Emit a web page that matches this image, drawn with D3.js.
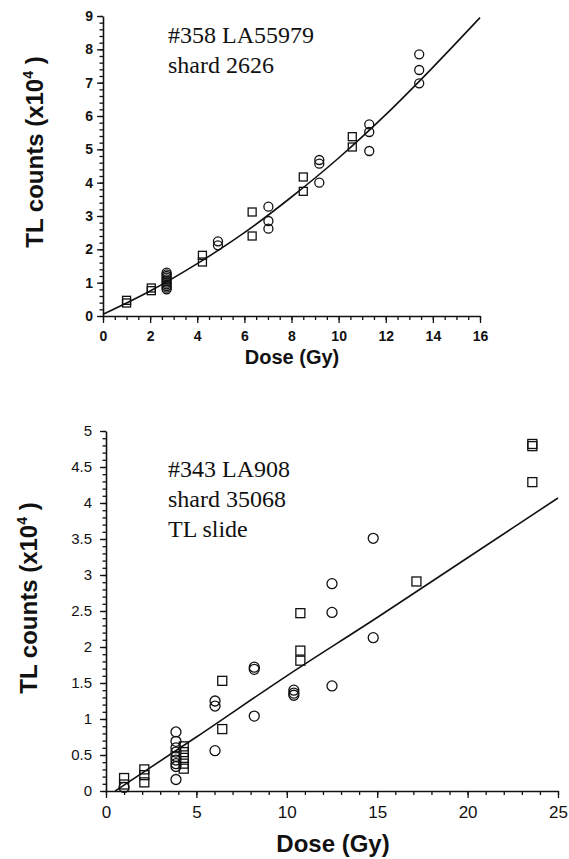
<!DOCTYPE html>
<html>
<head>
<meta charset="utf-8">
<script src="https://cdn.jsdelivr.net/npm/d3@7"></script>
<style>
  body { margin: 0; background: #fff; }
  .tick text { font-family: "Liberation Sans", Arial, sans-serif; fill: #111; }
  .domain, .tick line { stroke: #111; }
</style>
</head>
<body>
<svg id="fig" width="569" height="859"></svg>
<script>
const svg = d3.select('#fig');

// ---- top panel (#358) : [dose Gy, TL counts x1e4]
const topSquares = [[1.0, 0.47], [1.0, 0.39], [2.05, 0.84], [2.05, 0.76], [4.22, 1.82], [4.22, 1.62],
    [6.33, 3.12], [6.33, 2.40], [8.5, 4.17], [8.5, 3.74], [10.58, 5.38], [10.58, 5.07]];
const topCircles = [[2.7, 0.80], [2.7, 0.85], [2.7, 0.90], [2.7, 0.95], [2.7, 1.00], [2.7, 1.05], [2.7, 1.10],
    [2.7, 1.15], [2.7, 1.20], [2.7, 1.25], [2.7, 1.30],
    [4.88, 2.24], [4.88, 2.12], [7.02, 3.28], [7.02, 2.85], [7.02, 2.62],
    [9.18, 4.68], [9.18, 4.57], [9.18, 4.00], [11.3, 5.75], [11.3, 5.52], [11.3, 4.95],
    [13.42, 7.85], [13.42, 7.38], [13.42, 6.98]];
const topFit = [[0, 0.05], [2, 0.75], [4, 1.57], [6, 2.50], [8, 3.57], [10, 4.74], [12, 6.04], [14, 7.46], [16, 8.95]];
const topXTicks = [0, 2, 4, 6, 8, 10, 12, 14, 16];
const topYTicks = [0, 1, 2, 3, 4, 5, 6, 7, 8, 9];
const topNote = ['#358 LA55979', 'shard 2626'];

// ---- bottom panel (#343)
const botSquares = [[1.0, 0.18], [1.0, 0.09], [2.12, 0.30], [2.12, 0.22], [2.12, 0.12],
    [4.3, 0.62], [4.3, 0.54], [4.3, 0.46], [4.3, 0.38], [4.3, 0.31],
    [6.43, 1.53], [6.43, 0.86], [10.75, 2.47], [10.75, 1.95], [10.75, 1.81],
    [17.17, 2.91], [23.58, 4.82], [23.58, 4.79], [23.58, 4.29]];
const botCircles = [[1.0, 0.05], [3.87, 0.82], [3.87, 0.69], [3.87, 0.60], [3.87, 0.54], [3.87, 0.48],
    [3.87, 0.43], [3.87, 0.38], [3.87, 0.34], [3.87, 0.16],
    [6.03, 1.25], [6.03, 1.18], [6.03, 0.56], [8.2, 1.72], [8.2, 1.69], [8.2, 1.04],
    [10.39, 1.40], [10.39, 1.36], [10.39, 1.33], [12.5, 2.88], [12.5, 2.48], [12.5, 1.46],
    [14.78, 3.51], [14.78, 2.13]];
const botFit = [[0.5, 0], [5, 0.75], [10, 1.60], [15, 2.41], [20, 3.24], [25, 4.07]];
const botXTicks = [0, 5, 10, 15, 20, 25];
const botYTicks = [0, 0.5, 1, 1.5, 2, 2.5, 3, 3.5, 4, 4.5, 5];
const botNote = ['#343 LA908', 'shard 35068', 'TL slide'];

function minorTicks (max, step) {
    return d3.range(0, max + step / 2, step);
}

function drawPanel (p) {
    const x = d3.scaleLinear().domain(p.xDomain).range(p.xRange);
    const y = d3.scaleLinear().domain(p.yDomain).range(p.yRange);
    const g = svg.append('g');

    // minor ticks
    g.append('g').attr('transform', `translate(0,${p.yRange[0]})`)
        .call(d3.axisBottom(x).tickValues(minorTicks(p.xDomain[1], p.xMinor)).tickSize(4).tickFormat('').tickSizeOuter(0))
        .call(s => s.select('.domain').remove());
    g.append('g').attr('transform', `translate(${p.xRange[0]},0)`)
        .call(d3.axisLeft(y).tickValues(minorTicks(p.yDomain[1], p.yMinor)).tickSize(3.5).tickFormat('').tickSizeOuter(0))
        .call(s => s.select('.domain').remove());

    // major axes
    const xa = g.append('g').attr('transform', `translate(0,${p.yRange[0]})`)
        .call(d3.axisBottom(x).tickValues(p.xTicks).tickSize(7).tickSizeOuter(0).tickPadding(p.xPad).tickFormat(d3.format('')));
    xa.selectAll('text').style('font-size', p.xFont + 'px').style('font-weight', p.tickWeight);
    const ya = g.append('g').attr('transform', `translate(${p.xRange[0]},0)`)
        .call(d3.axisLeft(y).tickValues(p.yTicks).tickSize(6).tickSizeOuter(0).tickPadding(p.yPad).tickFormat(d3.format('')));
    ya.selectAll('text').style('font-size', p.yFont + 'px').style('font-weight', p.tickWeight);
    g.selectAll('.domain').attr('stroke-width', 1.6);
    g.selectAll('.tick line').attr('stroke-width', 1.3);

    // fit line
    g.append('path')
        .datum(p.fit)
        .attr('fill', 'none')
        .attr('stroke', '#111')
        .attr('stroke-width', 1.6)
        .attr('d', d3.line().x(d => x(d[0])).y(d => y(d[1])).curve(d3.curveMonotoneX));

    // markers
    const s = p.size;
    g.append('g').selectAll('rect').data(p.squares).enter().append('rect')
        .attr('x', d => x(d[0]) - s / 2)
        .attr('y', d => y(d[1]) - s / 2)
        .attr('width', s).attr('height', s)
        .attr('fill', 'none').attr('stroke', '#111').attr('stroke-width', 1.3);
    g.append('g').selectAll('circle').data(p.circles).enter().append('circle')
        .attr('cx', d => x(d[0]))
        .attr('cy', d => y(d[1]))
        .attr('r', p.r)
        .attr('fill', 'none').attr('stroke', '#111').attr('stroke-width', 1.3);

    // annotation
    g.append('g').selectAll('text').data(p.note).enter().append('text')
        .attr('x', 168)
        .attr('y', (d, i) => p.noteY + i * 30)
        .style('font-family', '"Liberation Serif", "Times New Roman", serif')
        .style('font-size', '24px')
        .attr('fill', '#111')
        .text(d => d);

    // axis titles
    g.append('text')
        .attr('x', p.xTitle[0]).attr('y', p.xTitle[1])
        .attr('text-anchor', 'middle')
        .style('font-family', '"Liberation Sans", Arial, sans-serif')
        .style('font-weight', 'bold')
        .style('font-size', p.xTitleFont + 'px')
        .attr('fill', '#111')
        .text('Dose (Gy)');
    const yt = g.append('text')
        .attr('transform', `translate(${p.yTitle[0]},${p.yTitle[1]}) rotate(-90)`)
        .attr('text-anchor', 'middle')
        .style('font-family', '"Liberation Sans", Arial, sans-serif')
        .style('font-weight', 'bold')
        .style('font-size', '24px')
        .attr('fill', '#111');
    yt.append('tspan').text('TL counts (x10');
    yt.append('tspan').attr('dy', -10).style('font-size', '14px').text('4');
    yt.append('tspan').attr('dy', 10).text(' )');
}

drawPanel({
    xDomain: [0, 16], xRange: [103, 480], yDomain: [0, 9], yRange: [316, 16],
    xTicks: topXTicks, yTicks: topYTicks, xMinor: 0.5, yMinor: 0.2,
    xFont: 14, yFont: 14, xPad: 8, yPad: 4, tickWeight: 'bold',
    squares: topSquares, circles: topCircles, fit: topFit, size: 8, r: 4.5,
    note: topNote, noteY: 43,
    xTitle: [292, 364], xTitleFont: 20, yTitle: [43, 152]
});

drawPanel({
    xDomain: [0, 25], xRange: [106, 558], yDomain: [0, 5], yRange: [791, 431],
    xTicks: botXTicks, yTicks: botYTicks, xMinor: 1, yMinor: 0.1,
    xFont: 17, yFont: 15, xPad: 8, yPad: 8, tickWeight: 'normal',
    squares: botSquares, circles: botCircles, fit: botFit, size: 9, r: 5,
    note: botNote, noteY: 477,
    xTitle: [333, 852], xTitleFont: 24, yTitle: [37, 598]
});
</script>
</body>
</html>
